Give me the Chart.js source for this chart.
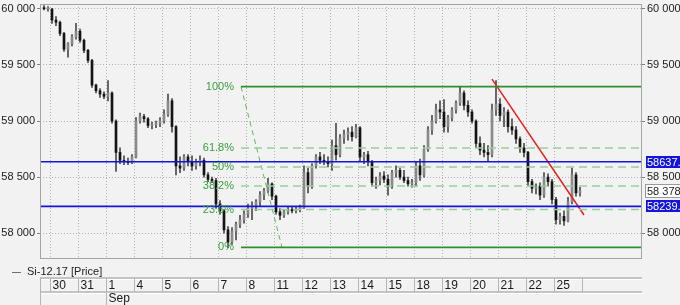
<!DOCTYPE html>
<html>
<head>
<meta charset="utf-8">
<script src="https://cdn.jsdelivr.net/npm/chart.js@4.4.0/dist/chart.umd.min.js"></script>
<style>
html,body{margin:0;padding:0;background:#f2f2f2;}
canvas{display:block;}
</style>
</head>
<body>
<canvas id="chart" width="680" height="305"></canvas>
<script>
// session days shown on the time strip
const days = ["30","31","1","4","5","6","7","8","11","12","13","14","15","18","19","20","21","22","25"];
const monthLabel = "Sep";
const monthDay = 2;
const barsPerDay = 7;

// candles: 2 bars from the previous session, then 7 per day
const opens = [
60010,60000,
60000,59900,59880,59780,59640,59690,59750,
59800,59720,59630,59540,59320,59270,59240,
59220,59250,59000,58720,58650,58640,58630,
58680,59000,59040,59020,58960,58970,58980,
59000,59060,59180,58950,58600,58580,58680,
58640,58600,58630,58650,58520,58480,58470,
58260,58200,58030,57920,58020,58080,58120,
58170,58220,58250,58280,58340,58380,58440,
58330,58190,58160,58190,58210,58200,58210,
58230,58540,58420,58600,58680,58650,58640,
58620,58780,58700,58850,58880,58900,58860,
58940,58680,58700,58640,58450,58470,58510,
58480,58420,58540,58560,58500,58470,58440,
58450,58600,58520,58750,58920,59000,59100,
59080,58950,59030,59100,59160,59250,59140,
59080,59000,58800,58740,58720,58700,59100,
59150,59050,59080,58950,58920,58840,58760,
58720,58460,58400,58420,58340,58500,58460,
58300,58120,58150,58110,58280,58520,58360
];
const highs = [
60030,60020,
60000,59930,59890,59790,59700,59770,59870,
59820,59730,59640,59550,59330,59290,59260,
59360,59260,59010,58760,58690,58670,58700,
59030,59070,59060,59030,58990,59000,59030,
59100,59240,59200,58960,58680,58700,58700,
58690,58660,58690,58670,58540,58500,58490,
58290,58210,58060,58050,58100,58160,58200,
58260,58280,58300,58370,58400,58490,58450,
58340,58220,58210,58240,58240,58230,58250,
58600,58580,58620,58700,58720,58700,58680,
58830,58980,58880,58920,58940,58950,58970,
58950,58720,58730,58650,58500,58540,58550,
58520,58560,58600,58580,58560,58500,58480,
58640,58660,58780,58950,59050,59150,59180,
59190,59050,59120,59180,59300,59270,59180,
59100,59010,58860,58800,58780,59150,59360,
59200,59120,59100,59020,58950,58860,58800,
58730,58480,58440,58450,58540,58530,58480,
58320,58180,58200,58320,58580,58540,58410
];
const lows = [
59990,59980,
59870,59850,59760,59620,59570,59670,59730,
59700,59610,59520,59300,59250,59210,59200,
59180,58980,58550,58620,58610,58610,58620,
58670,58980,58990,58940,58930,58940,58950,
58980,59040,58900,58520,58540,58560,58600,
58560,58570,58600,58500,58460,58450,58220,
58170,58000,57870,57900,57940,58050,58090,
58140,58120,58200,58240,58300,58360,58300,
58170,58120,58140,58170,58180,58180,58190,
58220,58360,58400,58580,58620,58610,58590,
58560,58650,58680,58800,58830,58820,58850,
58640,58620,58600,58420,58400,58430,58450,
58340,58400,58500,58480,58450,58420,58410,
58420,58470,58500,58730,58880,58980,59020,
58900,58900,59000,59070,59140,59100,59040,
58980,58760,58700,58680,58640,58680,59050,
59000,58950,58900,58880,58800,58720,58680,
58420,58360,58350,58300,58320,58420,58260,
58080,58080,58070,58100,58260,58330,58330
];
const closes = [
60000,60000,
59900,59880,59780,59640,59690,59750,59800,
59720,59630,59540,59320,59270,59240,59220,
59250,59000,58720,58650,58640,58630,58680,
59000,59040,59020,58960,58970,58980,59000,
59060,59180,58950,58600,58580,58680,58640,
58600,58630,58650,58520,58480,58470,58260,
58200,58030,57920,58020,58080,58120,58170,
58220,58250,58280,58340,58380,58440,58330,
58190,58160,58190,58210,58200,58210,58230,
58540,58420,58600,58680,58650,58640,58620,
58780,58700,58850,58880,58900,58860,58940,
58680,58700,58640,58450,58470,58510,58480,
58420,58540,58560,58500,58470,58440,58450,
58600,58520,58750,58920,59000,59100,59080,
58950,59030,59100,59160,59250,59140,59080,
59000,58800,58740,58720,58700,59100,59150,
59050,59080,58950,58920,58840,58760,58720,
58460,58400,58420,58340,58500,58460,58300,
58120,58150,58110,58280,58520,58360,58378
];
const tailBars = 2;

// levels and drawn tools
const yTicks = [58000,58500,59000,59500,60000];
const blueLevels = [58637,58239];
const lastPrice = 58378;
const fibHigh = 59306;
const fibLow = 57873;
const fibRatios = [1,0.618,0.5,0.382,0.236,0];
const fibLabels = ["100%","61.8%","50%","38.2%","23.6%","0%"];
const fibStart = 47.75;
const fibEnd = 58;
const trendLine = [{x:110.5,y:59374},{x:133.5,y:58162}];

const xMin = -2.5, xMax = 148;
const yMin = 57779, yMax = 60043;
const font = "Arial, 'Liberation Sans', sans-serif";

const fmt = v => String(v).replace(/\B(?=(\d{3})+(?!\d))/g," ");
const xs = opens.map((o,i)=> i - tailBars + 0.5);

const datasets = [];

datasets.push({
  type:"bar", label:"wick", order:3, grouped:false,
  data: xs.map((x,i)=>({x:x, y:[lows[i],highs[i]]})),
  backgroundColor:"#4a4a4a", barThickness:1, borderWidth:0
});
datasets.push({
  type:"bar", label:"body", order:2, grouped:false, minBarLength:1,
  data: xs.map((x,i)=>({x:x, y:[opens[i],closes[i]]})),
  backgroundColor: c => closes[c.dataIndex] >= opens[c.dataIndex] ? "#8a8a8a" : "#141414",
  barThickness:2, borderWidth:0
});

blueLevels.forEach(v=>{
  datasets.push({
    type:"line", order:1, data:[{x:xMin,y:v},{x:xMax,y:v}],
    borderColor:"#1414dc", borderWidth:1.6, pointRadius:0
  });
});

fibRatios.forEach(r=>{
  const p = fibLow + r*(fibHigh-fibLow);
  const solid = r===0 || r===1;
  datasets.push({
    type:"line", order:1, data:[{x:fibStart,y:p},{x:xMax,y:p}],
    borderColor: solid ? "#2f8f2f" : "#98d098",
    borderWidth: solid ? 1.8 : 1.5,
    borderDash: solid ? [] : [8,5],
    pointRadius:0
  });
});

datasets.push({
  type:"line", order:1, data:[{x:fibStart,y:fibHigh},{x:fibEnd,y:fibLow}],
  borderColor:"#5cb85c", borderWidth:1, borderDash:[5,4], pointRadius:0
});

datasets.push({
  type:"line", order:1, data:trendLine,
  borderColor:"#e82020", borderWidth:1.5, pointRadius:0
});

const extras = {
  id:"extras",
  beforeDraw(chart){
    const ctx = chart.ctx;
    ctx.save();
    ctx.fillStyle = "#f2f2f2";
    ctx.fillRect(0,0,chart.width,chart.height);
    ctx.restore();
  },
  afterDraw(chart){
    const ctx = chart.ctx;
    const a = chart.chartArea;
    const x = chart.scales.x, y = chart.scales.y;
    ctx.save();

    // plot frame
    ctx.strokeStyle = "#a4a4a4";
    ctx.lineWidth = 1;
    ctx.strokeRect(a.left+0.5, a.top+0.5, a.right-a.left-1, a.bottom-a.top);

    // fibonacci labels
    ctx.font = "11px " + font;
    ctx.fillStyle = "#3a9e3a";
    ctx.textAlign = "right";
    ctx.textBaseline = "middle";
    const fx = x.getPixelForValue(fibStart) - 7;
    fibRatios.forEach((r,i)=>{
      const p = fibLow + r*(fibHigh-fibLow);
      ctx.fillText(fibLabels[i], fx, y.getPixelForValue(p));
    });

    // price boxes on the right axis
    ctx.textAlign = "left";
    blueLevels.forEach(v=>{
      const py = Math.round(y.getPixelForValue(v));
      ctx.fillStyle = "#1414dc";
      ctx.fillRect(a.right+4, py-6, 40, 12);
      ctx.fillStyle = "#ffffff";
      ctx.fillText(String(v)+".", a.right+5, py+0.5);
    });
    const ly = Math.round(y.getPixelForValue(lastPrice));
    ctx.fillStyle = "#ffffff";
    ctx.fillRect(a.right+3, ly-7, 40, 14);
    ctx.strokeStyle = "#9a9a9a";
    ctx.strokeRect(a.right+3.5, ly-6.5, 40, 13);
    ctx.fillStyle = "#222";
    ctx.fillText(fmt(lastPrice), a.right+5, ly+0.5);

    // legend
    ctx.strokeStyle = "#707070";
    ctx.beginPath();
    ctx.moveTo(12, 272.5); ctx.lineTo(21, 272.5);
    ctx.stroke();
    ctx.fillStyle = "#222";
    ctx.fillText("Si-12.17 [Price]", 27, 272);

    // time strip
    const top = 278, mid = 292, bot = 305;
    ctx.strokeStyle = "#c4c4c4";
    ctx.lineWidth = 2;
    ctx.beginPath();
    ctx.moveTo(a.left, top); ctx.lineTo(a.right, top);
    ctx.moveTo(a.left, mid); ctx.lineTo(a.right, mid);
    ctx.stroke();
    ctx.strokeStyle = "#ffffff";
    ctx.lineWidth = 1;
    ctx.beginPath();
    ctx.moveTo(a.left, top+1.5); ctx.lineTo(a.right, top+1.5);
    ctx.moveTo(a.left, mid+1.5); ctx.lineTo(a.right, mid+1.5);
    ctx.stroke();
    ctx.strokeStyle = "#b4b4b4";
    ctx.beginPath();
    ctx.moveTo(a.left+0.5, top); ctx.lineTo(a.left+0.5, bot);
    days.forEach((d,k)=>{
      const px = Math.round(x.getPixelForValue(k*barsPerDay))+0.5;
      ctx.moveTo(px, top); ctx.lineTo(px, k===monthDay ? bot : mid);
    });
    const ex = Math.round(x.getPixelForValue(days.length*barsPerDay))+0.5;
    ctx.moveTo(ex, top); ctx.lineTo(ex, mid);
    ctx.stroke();
    ctx.fillStyle = "#1a1a1a";
    ctx.font = "12px " + font;
    days.forEach((d,k)=>{
      const px = x.getPixelForValue(k*barsPerDay);
      ctx.fillText(d, px+2.5, 285.5);
    });
    ctx.fillText(monthLabel, x.getPixelForValue(monthDay*barsPerDay)+2.5, 299);
    ctx.restore();
  }
};

const yScale = (pos) => ({
  type:"linear", position:pos, min:yMin, max:yMax,
  afterBuildTicks: s => { s.ticks = yTicks.map(v=>({value:v})); },
  afterFit: s => { s.width = pos==="left" ? 40 : 38; s.paddingTop = 0; s.paddingBottom = 0; },
  ticks:{ padding:2, color:"#1a1a1a", font:{family:font, size:11}, callback: v => fmt(v) },
  grid:{ color:"#b2b2b2", tickLength:3, tickColor:"#808080", drawOnChartArea: pos==="left" },
  border:{ display:false, dash:[1,2] }
});

new Chart(document.getElementById("chart"), {
  type:"bar",
  data:{ datasets: datasets },
  options:{
    responsive:false,
    animation:false,
    devicePixelRatio:1,
    layout:{ padding:{ top:4, left:0, right:0, bottom:0 } },
    plugins:{ legend:{display:false}, tooltip:{enabled:false} },
    scales:{
      x:{
        type:"linear", min:xMin, max:xMax, offset:false,
        afterBuildTicks: s => { s.ticks = days.map((d,k)=>({value:k*barsPerDay})); },
        afterFit: s => { s.height = 47; s.paddingLeft = 0; s.paddingRight = 0; },
        ticks:{ display:false },
        grid:{ color:"#b2b2b2", drawTicks:false, offset:false },
        border:{ display:false, dash:[1,2] }
      },
      y: yScale("left"),
      yR: yScale("right")
    }
  },
  plugins:[extras]
});
</script>
</body>
</html>
